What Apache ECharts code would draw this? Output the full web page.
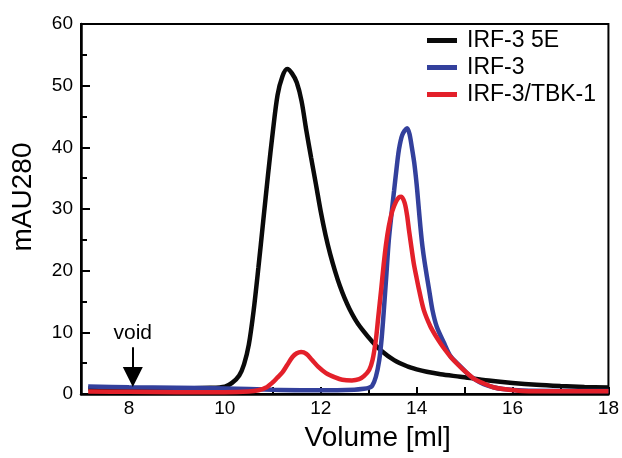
<!DOCTYPE html>
<html>
<head>
<meta charset="utf-8">
<script src="https://cdn.jsdelivr.net/npm/echarts@6/dist/echarts.min.js"></script>
<style>
html,body{margin:0;padding:0;background:#fff;}
#chart{width:622px;height:458px;}
</style>
</head>
<body>
<div id="chart"></div>
<script>
// Series names
var seriesNames = ['IRF-3 5E', 'IRF-3', 'IRF-3/TBK-1'];

// [volume (ml), mAU280]
var irf3_5E = [
  [7.15,0.9],[8,0.9],[9,0.9],[9.7,1.0],[10.0,1.2],[10.15,1.8],[10.3,3.0],[10.4,4.8],[10.5,8.0],
  [10.6,13.5],[10.7,20.5],[10.8,28],[10.9,35.5],[11.0,42.5],[11.1,48.5],[11.2,51.5],[11.3,52.7],
  [11.4,52],[11.5,50.5],[11.6,47.5],[11.7,42.7],[11.8,38.3],[11.9,34],[12.0,29.6],[12.1,25.8],
  [12.2,22.6],[12.3,19.9],[12.4,17.5],[12.5,15.5],[12.6,13.8],[12.75,11.7],[12.9,10.1],[13.05,8.7],
  [13.25,7.1],[13.53,5.5],[13.8,4.5],[14.0,4.0],[14.21,3.6],[14.5,3.2],[14.91,2.8],[15.5,2.2],
  [16.0,1.8],[16.5,1.5],[17.0,1.3],[17.5,1.15],[18.0,1.05]
];
var irf3 = [
  [7.15,1.2],[8,1.1],[9,1.0],[10,0.9],[11,0.7],[12,0.6],[12.7,0.7],[12.9,0.85],[13.0,1.0],
  [13.07,1.3],[13.15,2.8],[13.22,5.5],[13.27,9],[13.32,14],[13.37,19.5],[13.42,25],[13.48,29.5],
  [13.53,33],[13.58,36.5],[13.63,39.6],[13.7,42],[13.8,43.1],[13.85,42.2],[13.9,40],[13.95,37.5],
  [14.0,34],[14.04,30.5],[14.08,27],[14.12,24],[14.17,21.2],[14.26,16.9],[14.33,13.6],[14.42,10.9],
  [14.57,8.3],[14.71,6.1],[14.91,4.5],[15.05,3.4],[15.19,2.5],[15.4,1.6],[15.6,1.1],[15.8,0.8],
  [16.2,0.55],[17,0.5],[18,0.5]
];
var irf3_tbk1 = [
  [7.15,0.4],[8,0.35],[9,0.3],[10,0.3],[10.5,0.4],[10.7,0.6],[10.85,1.0],[11.0,1.9],[11.1,2.7],
  [11.2,3.5],[11.3,4.7],[11.41,6.0],[11.5,6.6],[11.59,6.8],[11.7,6.5],[11.82,5.5],[11.95,4.4],
  [12.11,3.4],[12.3,2.7],[12.45,2.3],[12.65,2.2],[12.8,2.4],[12.9,2.9],[13.01,3.9],[13.08,5.5],
  [13.15,8.8],[13.2,12.5],[13.26,16.9],[13.31,20.8],[13.36,24.2],[13.42,27.2],[13.49,29.6],[13.57,31.2],
  [13.63,31.9],[13.68,32.0],[13.75,31],[13.8,29],[13.84,26.6],[13.9,23.3],[13.94,21.2],[14.0,18.8],
  [14.05,16.9],[14.15,13.6],[14.29,10.9],[14.4,9.4],[14.5,8.2],[14.6,7.1],[14.71,6.0],[14.91,4.4],
  [15.05,3.4],[15.19,2.5],[15.4,1.7],[15.6,1.1],[15.8,0.8],[16.2,0.5],[17,0.45],[18,0.45]
];

// Void marker (volume, arrow top, arrow head centre)
var voidVolume = 8.08;
var voidStart = 7.6;
var voidEnd = 2.75;
var voidLabel = 'void';

var FONT = '"Liberation Sans", Arial, Helvetica, sans-serif';
var colors = ['#0a0a0a', '#33409c', '#e3202a'];

var chart = echarts.init(document.getElementById('chart'), null, {renderer: 'canvas'});

function mkSeries(i, data, extra) {
  var s = {
    name: seriesNames[i],
    type: 'line',
    data: data,
    smooth: 0.3,
    showSymbol: false,
    symbol: 'none',
    lineStyle: {color: colors[i], width: 4.5},
    itemStyle: {color: colors[i]},
    z: 2 + i,
    silent: true
  };
  if (extra) for (var k in extra) s[k] = extra[k];
  return s;
}

chart.setOption({
  animation: false,
  backgroundColor: '#fff',
  grid: {
    left: 81, right: 12, top: 24, bottom: 64,
    show: true, borderColor: '#000', borderWidth: 2
  },
  legend: {
    left: 422, top: 22,
    orient: 'vertical',
    itemGap: 0,
    itemWidth: 30, itemHeight: 5,
    icon: 'rect',
    data: seriesNames,
    textStyle: {fontFamily: FONT, fontSize: 23, color: '#000', lineHeight: 27, padding: [0, 0, 0, 5]}
  },
  xAxis: {
    type: 'value', min: 7, max: 18, interval: 1,
    name: 'Volume [ml]', nameLocation: 'middle', nameGap: 30,
    nameTextStyle: {fontFamily: FONT, fontSize: 28, color: '#000', padding: [0, 0, 0, 66]},
    axisLine: {show: true, onZero: false, lineStyle: {color: '#000', width: 2.5}},
    axisTick: {show: true, inside: true, length: 7, lineStyle: {color: '#000', width: 2}},
    axisLabel: {
      fontFamily: FONT, fontSize: 19, color: '#000', margin: 5,
      formatter: function (v) { return (v % 2 === 0) ? String(v) : ''; }
    },
    splitLine: {show: false}
  },
  yAxis: {
    type: 'value', min: 0, max: 60, interval: 10,
    name: 'mAU280', nameLocation: 'middle', nameGap: 44, nameRotate: 90,
    nameTextStyle: {fontFamily: FONT, fontSize: 28, color: '#000', padding: [0, 0, 0, 24]},
    axisLine: {show: true, lineStyle: {color: '#000', width: 2.5}},
    axisTick: {show: true, inside: true, length: 9, lineStyle: {color: '#000', width: 2}},
    minorTick: {show: true, splitNumber: 2, length: 6, lineStyle: {color: '#000', width: 2}},
    axisLabel: {fontFamily: FONT, fontSize: 19, color: '#000', margin: 8},
    splitLine: {show: false}
  },
  series: [
    mkSeries(0, irf3_5E),
    mkSeries(1, irf3),
    mkSeries(2, irf3_tbk1, {
      markLine: {
        silent: true,
        symbol: ['none', 'triangle'],
        symbolSize: [20, 20],
        lineStyle: {color: '#000', width: 2, type: 'solid'},
        itemStyle: {color: '#000'},
        label: {
          show: true, position: 'start', distance: 3,
          formatter: voidLabel,
          fontFamily: FONT, fontSize: 21, color: '#000'
        },
        emphasis: {disabled: true},
        data: [[{coord: [voidVolume, voidStart]}, {coord: [voidVolume, voidEnd]}]]
      }
    })
  ]
});
</script>
</body>
</html>
